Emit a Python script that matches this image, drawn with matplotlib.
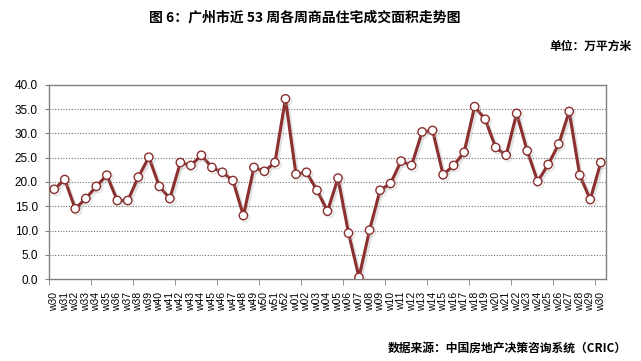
import matplotlib
matplotlib.use("Agg")
import matplotlib.pyplot as plt
import matplotlib.patheffects as pe
import numpy as np

# weekly residential transaction area (10k sqm), last 53 weeks
weeks = ["w30", "w31", "w32", "w33", "w34", "w35", "w36", "w37", "w38", "w39",
         "w40", "w41", "w42", "w43", "w44", "w45", "w46", "w47", "w48", "w49",
         "w50", "w51", "w52", "w01", "w02", "w03", "w04", "w05", "w06", "w07",
         "w08", "w09", "w10", "w11", "w12", "w13", "w14", "w15", "w16", "w17",
         "w18", "w19", "w20", "w21", "w22", "w23", "w24", "w25", "w26", "w27",
         "w28", "w29", "w30"]
area = [18.5, 20.5, 14.5, 16.6, 19.1, 21.4, 16.2, 16.2, 21.0, 25.1,
        19.1, 16.6, 24.0, 23.4, 25.5, 23.0, 22.0, 20.3, 13.1, 23.0,
        22.2, 24.0, 37.1, 21.6, 22.0, 18.3, 14.0, 20.8, 9.5, 0.4,
        10.1, 18.3, 19.7, 24.3, 23.4, 30.3, 30.6, 21.5, 23.4, 26.1,
        35.5, 32.9, 27.1, 25.5, 34.1, 26.4, 20.1, 23.6, 27.8, 34.5,
        21.4, 16.4, 24.0]

cjk = ["Noto Sans CJK SC", "DejaVu Sans"]
latin = ["Liberation Sans", "DejaVu Sans"]
line_color = "#8B2F2F"
axis_gray = "#808080"

fig = plt.figure(figsize=(6.41, 3.61), dpi=100)
ax = fig.add_axes([0.0764, 0.2263, 0.869, 0.5391])

x = np.arange(len(weeks))
ax.plot(x, area, color=line_color, lw=2.2, marker="o", ms=6,
        mfc="white", mec=line_color, mew=1.0, zorder=3,
        path_effects=[pe.SimpleLineShadow(offset=(1.5, -1.5), shadow_color="#b0b0b0", alpha=0.35),
                      pe.Normal()])

ax.set_xlim(-0.5, len(weeks) - 0.5)
ax.set_ylim(0, 40)

ax.set_xticks(x)
ax.set_xticklabels(weeks, rotation=90, fontsize=7.5, family=latin, va="top", ha="center")
ax.tick_params(axis="x", which="major", length=0, pad=9)
ax.set_xticks(np.arange(-0.5, len(weeks) - 1, 4), minor=True)
ax.tick_params(axis="x", which="minor", length=4, color=axis_gray, direction="out")

yt = np.arange(0, 41, 5)
ax.set_yticks(yt)
ax.set_yticklabels([f"{v:.1f}" for v in yt], fontsize=8.5, family=latin)
ax.tick_params(axis="y", length=3, color=axis_gray, pad=5)

for v in yt[1:-1]:
    ax.axhline(v, color="#707070", lw=0.8, ls=(0, (1, 1.5)), zorder=1)

for s in ax.spines.values():
    s.set_color(axis_gray)
    s.set_linewidth(1.0)

fig.text(0.475, 0.952, "图 6：广州市近 53 周各周商品住宅成交面积走势图", ha="center", va="center",
         fontsize=10, fontweight="bold", family=cjk)
fig.text(0.986, 0.872, "单位：万平方米", ha="right", va="center",
         fontsize=8.5, fontweight="bold", family=cjk)
fig.text(0.978, 0.036, "数据来源：中国房地产决策咨询系统（CRIC）", ha="right", va="center",
         fontsize=8.5, fontweight="bold", family=cjk)

fig.savefig("out.png", dpi=100)
